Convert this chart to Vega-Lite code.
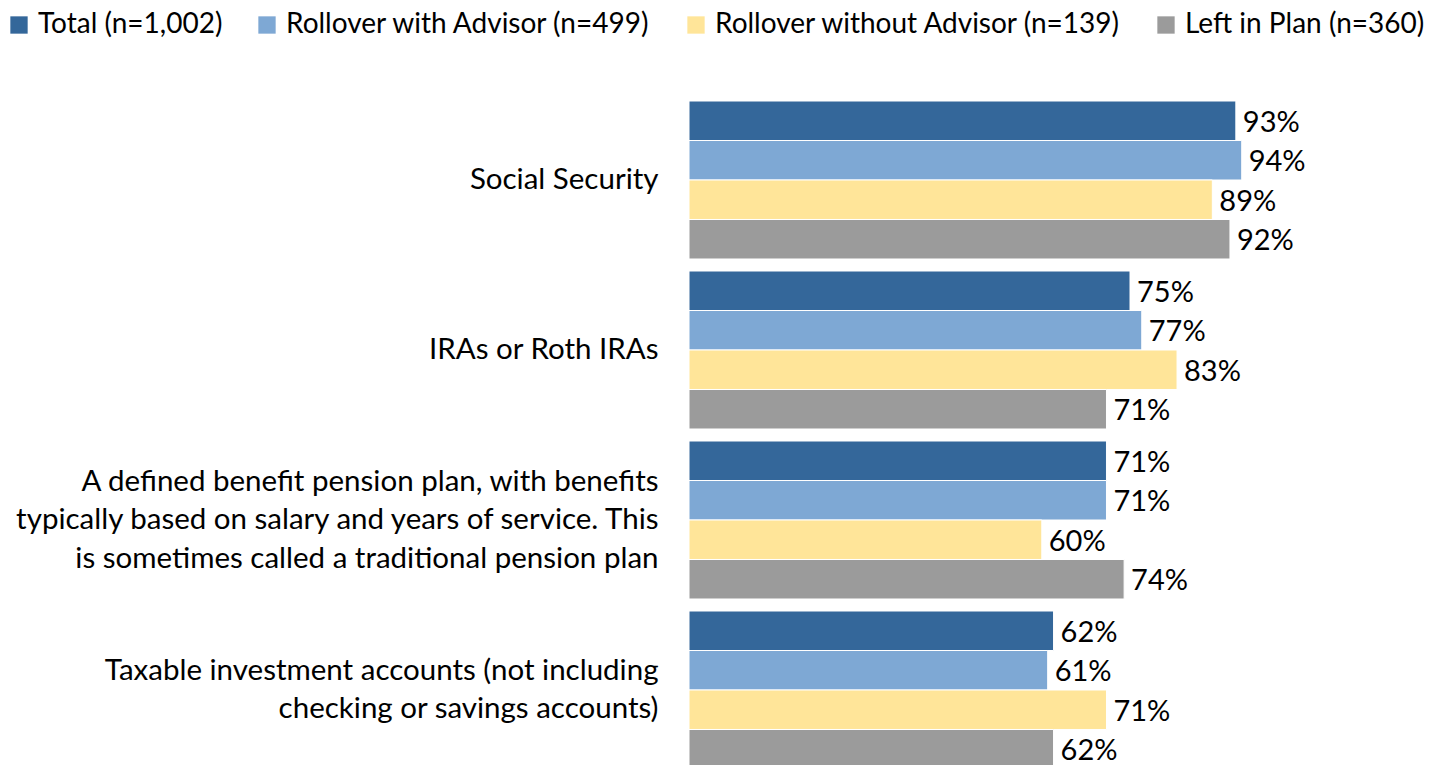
{
  "$schema": "https://vega.github.io/schema/vega-lite/v6.json",
  "width": 588,
  "height": 680,
  "autosize": {"type": "none"},
  "padding": {"left": 689, "top": 95, "right": 168, "bottom": 0},
  "background": "white",
  "config": {
    "view": {"stroke": null},
    "font": "Lato",
    "text": {"font": "Lato"}
  },
  "data": {
    "values": [
      {"category": "Social Security", "series": "Total (n=1,002)", "value": 0.93},
      {"category": "Social Security", "series": "Rollover with Advisor (n=499)", "value": 0.94},
      {"category": "Social Security", "series": "Rollover without Advisor (n=139)", "value": 0.89},
      {"category": "Social Security", "series": "Left in Plan (n=360)", "value": 0.92},
      {"category": "IRAs or Roth IRAs", "series": "Total (n=1,002)", "value": 0.75},
      {"category": "IRAs or Roth IRAs", "series": "Rollover with Advisor (n=499)", "value": 0.77},
      {"category": "IRAs or Roth IRAs", "series": "Rollover without Advisor (n=139)", "value": 0.83},
      {"category": "IRAs or Roth IRAs", "series": "Left in Plan (n=360)", "value": 0.71},
      {"category": "A defined benefit pension plan, with benefits|typically based on salary and years of service. This|is sometimes called a traditional pension plan", "series": "Total (n=1,002)", "value": 0.71},
      {"category": "A defined benefit pension plan, with benefits|typically based on salary and years of service. This|is sometimes called a traditional pension plan", "series": "Rollover with Advisor (n=499)", "value": 0.71},
      {"category": "A defined benefit pension plan, with benefits|typically based on salary and years of service. This|is sometimes called a traditional pension plan", "series": "Rollover without Advisor (n=139)", "value": 0.60},
      {"category": "A defined benefit pension plan, with benefits|typically based on salary and years of service. This|is sometimes called a traditional pension plan", "series": "Left in Plan (n=360)", "value": 0.74},
      {"category": "Taxable investment accounts (not including|checking or savings accounts)", "series": "Total (n=1,002)", "value": 0.62},
      {"category": "Taxable investment accounts (not including|checking or savings accounts)", "series": "Rollover with Advisor (n=499)", "value": 0.61},
      {"category": "Taxable investment accounts (not including|checking or savings accounts)", "series": "Rollover without Advisor (n=139)", "value": 0.71},
      {"category": "Taxable investment accounts (not including|checking or savings accounts)", "series": "Left in Plan (n=360)", "value": 0.62}
    ]
  },
  "encoding": {
    "y": {
      "field": "category",
      "type": "nominal",
      "sort": null,
      "scale": {"paddingInner": 0.0706, "paddingOuter": 0.0353},
      "axis": {
        "title": null,
        "domain": false,
        "ticks": false,
        "labelPadding": 31,
        "labelFont": "Lato",
        "labelFontSize": 29.5,
        "labelColor": "black",
        "labelLimit": 800,
        "labelLineHeight": 38.5,
        "labelExpr": "split(datum.value, '|')",
        "labelOffset": {
          "condition": [
            {"test": "length(split(datum.value, '|')) == 3", "value": -38.5},
            {"test": "length(split(datum.value, '|')) == 2", "value": -19.25}
          ],
          "value": 0
        }
      }
    },
    "yOffset": {
      "field": "series",
      "type": "nominal",
      "sort": null,
      "scale": {"paddingInner": 0, "paddingOuter": 0}
    },
    "x": {
      "field": "value",
      "type": "quantitative",
      "scale": {"domain": [0, 1]},
      "axis": null
    }
  },
  "layer": [
    {
      "mark": {"type": "bar", "stroke": "white", "strokeWidth": 1},
      "encoding": {
        "color": {
          "field": "series",
          "type": "nominal",
          "sort": null,
          "scale": {
            "domain": ["Total (n=1,002)", "Rollover with Advisor (n=499)", "Rollover without Advisor (n=139)", "Left in Plan (n=360)"],
            "range": ["#34679A", "#7EA8D4", "#FFE599", "#9B9B9B"]
          },
          "legend": {
            "title": null,
            "orient": "none",
            "direction": "horizontal",
            "legendX": -684,
            "legendY": -84,
            "symbolType": "square",
            "symbolSize": 300,
            "symbolStrokeWidth": 0,
            "labelFont": "Lato",
            "labelFontSize": 28,
            "labelColor": "black",
            "labelLimit": 600,
            "labelOffset": 5,
            "columnPadding": 30,
            "padding": 0
          }
        }
      }
    },
    {
      "mark": {"type": "text", "align": "left", "baseline": "middle", "dx": 7, "dy": 2, "font": "Lato", "fontSize": 29, "color": "black"},
      "encoding": {
        "text": {"field": "value", "type": "quantitative", "format": ".0%"}
      }
    }
  ]
}
